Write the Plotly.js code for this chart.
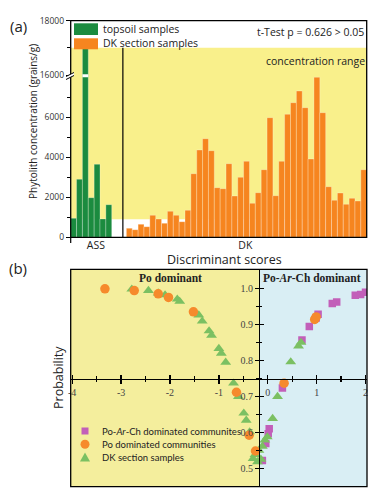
<!DOCTYPE html>
<html><head><meta charset="utf-8">
<script src="https://cdn.plot.ly/plotly-3.0.1.min.js"></script>
<style>html,body{margin:0;padding:0;background:#fff}#chart{width:378px;height:496px}</style>
</head><body><div id="chart"></div>
<script>
// ---------- Panel (a) data ----------
const groupLabels = ['ASS', 'DK'];
const assValues = [950, 2900, 17000, 1980, 3650, 920, 1630];
const dkValues = [450, 380, 650, 530, 1100, 915, 700, 1300, 1100, 780, 1350, 3180, 4365, 4930, 4330,
  2480, 2430, 3680, 2065, 3000, 3800, 1700, 2230, 3380, 5980, 2080, 3800, 6150, 6730, 7315, 6480,
  3915, 8000, 6230, 2530, 1850, 2215, 1650, 1950, 1815, 3380];
const yTicksLow = [0, 2000, 4000, 6000];
const yMinorLow = [1000, 3000, 5000, 7000];
const yTicksUp = [16000, 18000];
const yMinorUp = [17000];
const rangeLow = [900, 17000]; // "concentration range"

// ---------- Panel (b) data ----------
const pacScore = [2.0, 1.90, 1.79, 1.41, 1.32, 1.03, 0.99, 0.85, 0.70, 0.30, 0.03, 0.01, -0.04, -0.11];
const pacProb  = [0.989, 0.983, 0.981, 0.962, 0.958, 0.928, 0.918, 0.894, 0.857, 0.724, 0.611, 0.597, 0.570, 0.523];
const poScore = [-3.33, -2.73, -2.24, -2.03, -1.52, 0.96, 0.99, 0.335, -0.64, -0.38, -0.25];
const poProb  = [0.999, 0.994, 0.985, 0.975, 0.935, 0.914, 0.921, 0.737, 0.712, 0.593, 0.549];
const dkScore = [-2.78, -2.44, -2.24, -2.10, -1.85, -1.80, -1.41, -1.34, -1.20, -1.15, -1.0, -0.95, -0.86,
  -0.70, -0.60, -0.49, -0.44, -0.37, -0.30, -0.26, -0.21, -0.18, -0.14, -0.11, -0.06, -0.01, 0.10, 0.20, 0.47, 0.63, 0.68];
const dkProb  = [0.998, 0.994, 0.987, 0.982, 0.970, 0.964, 0.926, 0.909, 0.882, 0.870, 0.833, 0.820, 0.795,
  0.737, 0.700, 0.654, 0.634, 0.602, 0.528, 0.539, 0.519, 0.551, 0.526, 0.562, 0.579, 0.588, 0.639, 0.700, 0.796, 0.840, 0.850];
const xTicksB = [-4, -3, -2, -1, 0, 1, 2];
const yTicksB = [0.5, 0.6, 0.7, 0.8, 0.9, 1.0];
const boundaryScore = -0.18;
const xCrossProb = 0.75;

// ---------- helpers ----------
const W = 378, H = 496;
const fx = p => p / W, fy = p => 1 - p / H;

const assPos = assValues.map((v, i) => i);
const dkPos = dkValues.map((v, i) => 9.5 + i);
const tallIdx = assValues.indexOf(Math.max(...assValues));

const yLowRange = [0, 8065], yUpRange = [15963, 18000];
const yDomLow = [fy(237.3), fy(76)], yDomUp = [fy(76), fy(20.7)];
const xDomA = [fx(70.7), fx(366.7)];

const xRangeB = [-4.03, 2.03], yRangeB = [0.45, 1.053];
const xDomB = [fx(70.7), fx(367)], yDomB = [fy(486.7), fy(269.3)];
const xAxisPosB = yDomB[0] + (xCrossProb - yRangeB[0]) / (yRangeB[1] - yRangeB[0]) * (yDomB[1] - yDomB[0]);
const yAxisPosB = xDomB[0] + (boundaryScore - xRangeB[0]) / (xRangeB[1] - xRangeB[0]) * (xDomB[1] - xDomB[0]);

const GREEN = '#1B8B3F', ORANGE = '#F6851F', YELLOW = '#F9F08B';
const sans = 'Open Sans, DejaVu Sans, sans-serif';
const serif = 'Liberation Serif, Times New Roman, serif';
const barLine = {color: 'rgba(255,255,255,0.45)', width: 0.6};

const traces = [];
['y', 'y2'].forEach(ax => {
  traces.push({type: 'bar', x: assPos, y: assValues, width: 1, xaxis: 'x', yaxis: ax,
    marker: {color: GREEN, line: barLine}, hoverinfo: 'skip', showlegend: false});
  traces.push({type: 'bar', x: dkPos, y: dkValues, width: 1, xaxis: 'x', yaxis: ax,
    marker: {color: ORANGE, line: barLine}, hoverinfo: 'skip', showlegend: false});
});
traces.push({type: 'scatter', mode: 'markers', x: pacScore, y: pacProb, xaxis: 'x2', yaxis: 'y3',
  marker: {symbol: 'square', size: 7.5, color: '#C25FB9'}, showlegend: false, hoverinfo: 'skip'});
traces.push({type: 'scatter', mode: 'markers', x: dkScore, y: dkProb, xaxis: 'x2', yaxis: 'y3',
  marker: {symbol: 'triangle-up', size: 9.5, color: '#7BC062'}, showlegend: false, hoverinfo: 'skip'});
traces.push({type: 'scatter', mode: 'markers', x: poScore, y: poProb, xaxis: 'x2', yaxis: 'y3',
  marker: {symbol: 'circle', size: 9.5, color: '#F68A2C'}, showlegend: false, hoverinfo: 'skip'});
traces.push({type: 'scatter', x: [], y: [], xaxis: 'x3', yaxis: 'y4', showlegend: false, hoverinfo: 'skip'});

const minorX = [], minorY = [];
for (let i = 0; i < xTicksB.length - 1; i++) minorX.push((xTicksB[i] + xTicksB[i + 1]) / 2);
for (let i = 0; i < yTicksB.length - 1; i++) minorY.push(Math.round((yTicksB[i] + yTicksB[i + 1]) / 2 * 100) / 100);

const tickFontA = {family: sans, size: 8.5, color: '#333'};
const tickFontB = {family: serif, size: 10, color: '#444'};

const layout = {
  width: W, height: H, margin: {l: 0, r: 0, t: 0, b: 0},
  paper_bgcolor: '#fff', plot_bgcolor: 'rgba(0,0,0,0)', showlegend: false, barmode: 'overlay', bargap: 0,
  xaxis: {domain: xDomA, range: [-0.5, 50], anchor: 'y', showgrid: false, zeroline: false, showline: false,
    ticks: '', tickvals: [3.8, 29.3], ticktext: groupLabels, tickfont: {family: sans, size: 10.5, color: '#222'}},
  yaxis: {domain: yDomLow, range: yLowRange, anchor: 'x', showgrid: false, zeroline: false, showline: false,
    tickvals: yTicksLow, ticktext: yTicksLow.map(String), ticks: 'outside', ticklen: 4, tickcolor: '#000', tickfont: tickFontA,
    minor: {tickvals: yMinorLow, ticks: 'outside', ticklen: 2.5, tickcolor: '#000'}},
  yaxis2: {domain: yDomUp, range: yUpRange, anchor: 'x', showgrid: false, zeroline: false, showline: false,
    tickvals: yTicksUp, ticktext: yTicksUp.map(String), ticks: 'outside', ticklen: 4, tickcolor: '#000', tickfont: tickFontA,
    minor: {tickvals: yMinorUp, ticks: 'outside', ticklen: 2.5, tickcolor: '#000'}},
  xaxis2: {domain: xDomB, range: xRangeB, anchor: 'free', position: xAxisPosB, showgrid: false, zeroline: false,
    showline: true, linecolor: '#000', linewidth: 1.3, tickvals: xTicksB, ticktext: xTicksB.map(String),
    ticks: 'outside', ticklen: 4, tickwidth: 1.3, tickcolor: '#000', tickfont: tickFontB,
    minor: {tickvals: minorX, ticks: 'outside', ticklen: 2.5, tickcolor: '#000'}},
  yaxis3: {domain: yDomB, range: yRangeB, anchor: 'free', position: yAxisPosB, showgrid: false, zeroline: false,
    showline: true, linecolor: '#000', linewidth: 1.3, tickvals: yTicksB, ticktext: yTicksB.map(v => v.toFixed(1)),
    ticks: 'outside', ticklen: 4, tickwidth: 1.3, tickcolor: '#000', tickfont: tickFontB,
    minor: {tickvals: minorY, ticks: 'outside', ticklen: 2.5, tickcolor: '#000'}},
  xaxis3: {overlaying: 'x2', range: xRangeB, anchor: 'free', position: xAxisPosB, showgrid: false, zeroline: false,
    showline: false, showticklabels: false, tickvals: xTicksB, ticks: 'inside', ticklen: 4, tickwidth: 1.3, tickcolor: '#000',
    minor: {tickvals: minorX, ticks: 'inside', ticklen: 2.5, tickcolor: '#000'}},
  yaxis4: {overlaying: 'y3', range: yRangeB, anchor: 'free', position: yAxisPosB, showgrid: false, zeroline: false,
    showline: false, showticklabels: false, tickvals: yTicksB, ticks: 'inside', ticklen: 4, tickwidth: 1.3, tickcolor: '#000',
    minor: {tickvals: minorY, ticks: 'inside', ticklen: 2.5, tickcolor: '#000'}},
  shapes: [], annotations: []
};

const S = layout.shapes, A = layout.annotations;
// panel (a) concentration range background
S.push({type: 'rect', layer: 'below', xref: 'x domain', yref: 'y', x0: 0, x1: 1, y0: rangeLow[0], y1: yLowRange[1], fillcolor: YELLOW, line: {width: 0}});
S.push({type: 'rect', layer: 'below', xref: 'x domain', yref: 'y2', x0: 0, x1: 1, y0: yUpRange[0], y1: rangeLow[1], fillcolor: YELLOW, line: {width: 0}});
// separator ASS | DK
S.push({type: 'line', xref: 'x', yref: 'y', x0: 8.4, x1: 8.4, y0: 0, y1: yLowRange[1], line: {color: '#000', width: 1.2}});
S.push({type: 'line', xref: 'x', yref: 'y2', x0: 8.4, x1: 8.4, y0: yUpRange[0], y1: rangeLow[1], line: {color: '#000', width: 1.2}});
// break gap in tall bar
S.push({type: 'rect', xref: 'x', yref: 'paper', x0: tallIdx - 0.5, x1: tallIdx + 0.5, y0: fy(77.2), y1: fy(74.3), fillcolor: '#fff', line: {width: 0}});
// frame (a)
S.push({type: 'rect', xref: 'paper', yref: 'paper', x0: xDomA[0], x1: xDomA[1], y0: yDomLow[0], y1: yDomUp[1], line: {color: '#000', width: 1.3}});
// break mark on left axis
S.push({type: 'path', xref: 'paper', yref: 'paper',
  path: `M${fx(66)},${fy(76.5)} L${fx(74)},${fy(72.5)} L${fx(74)},${fy(75.5)} L${fx(66)},${fy(79.5)} Z`, fillcolor: '#fff', line: {width: 0}});
S.push({type: 'line', xref: 'paper', yref: 'paper', x0: fx(66), x1: fx(74), y0: fy(76.5), y1: fy(72.5), line: {color: '#000', width: 1}});
S.push({type: 'line', xref: 'paper', yref: 'paper', x0: fx(66), x1: fx(74), y0: fy(79.5), y1: fy(75.5), line: {color: '#000', width: 1}});
S.push({type: 'line', xref: 'paper', yref: 'paper', x0: fx(70.7), x1: fx(70.7), y0: fy(237.3), y1: fy(243), line: {color: '#000', width: 1.2}});
// legend (a)
S.push({type: 'rect', xref: 'paper', yref: 'paper', x0: fx(74), x1: fx(98), y0: fy(35), y1: fy(23.3), fillcolor: GREEN, line: {width: 0}});
S.push({type: 'rect', xref: 'paper', yref: 'paper', x0: fx(74), x1: fx(98), y0: fy(49.3), y1: fy(38.3), fillcolor: ORANGE, line: {width: 0}});

// panel (b) backgrounds
S.push({type: 'rect', layer: 'below', xref: 'x2', yref: 'y3 domain', x0: xRangeB[0], x1: boundaryScore, y0: 0, y1: 1, fillcolor: '#F4EE9D', line: {width: 0}});
S.push({type: 'rect', layer: 'below', xref: 'x2', yref: 'y3 domain', x0: boundaryScore, x1: xRangeB[1], y0: 0, y1: 1, fillcolor: '#D9EEF4', line: {width: 0}});
S.push({type: 'rect', xref: 'x2 domain', yref: 'y3 domain', x0: 0, x1: 1, y0: 0, y1: 1, line: {color: '#000', width: 1.3}});
// legend (b) symbols
S.push({type: 'rect', xref: 'paper', yref: 'paper', x0: fx(81.5), x1: fx(88.5), y0: fy(434.5), y1: fy(427.5), fillcolor: '#C25FB9', line: {width: 0}});
S.push({type: 'circle', xref: 'paper', yref: 'paper', x0: fx(80.5), x1: fx(89.5), y0: fy(448.8), y1: fy(439.8), fillcolor: '#F68A2C', line: {width: 0}});
S.push({type: 'path', xref: 'paper', yref: 'paper', path: `M${fx(80)},${fy(461.5)} L${fx(90)},${fy(461.5)} L${fx(85)},${fy(452.5)} Z`, fillcolor: '#7BC062', line: {width: 0}});

const ann = (text, x, y, o = {}) => A.push(Object.assign({text, x: fx(x), y: fy(y), xref: 'paper', yref: 'paper', showarrow: false,
  xanchor: 'center', yanchor: 'middle', font: {family: sans, size: 10.5, color: '#222'}}, o));
const legFontB = {family: 'Lato, Open Sans, sans-serif', size: 9.5, color: '#222'};
ann('(a)', 18, 26, {font: {family: sans, size: 15, color: '#222'}});
ann('(b)', 18, 268, {font: {family: sans, size: 15, color: '#222'}});
ann('topsoil samples', 101, 29, {xanchor: 'left'});
ann('DK section samples', 101, 43.5, {xanchor: 'left'});
ann('t-Test p = 0.626 &gt; 0.05', 366, 32, {xanchor: 'right'});
ann('concentration range', 367, 61, {xanchor: 'right'});
ann('Phytolith concentration (grains/g)', 33, 122, {textangle: -90, font: {family: sans, size: 10, color: '#222'}});
ann('Discriminant scores', 224, 259, {font: {family: sans, size: 12.5, color: '#222'}});
ann('<b>Po dominant</b>', 170, 278, {font: {family: serif, size: 11.5, color: '#222'}});
ann('<b>Po-<i>Ar</i>-Ch dominant</b>', 312, 278, {font: {family: serif, size: 11.5, color: '#222'}});
ann('Probability', 58, 378, {textangle: -90, font: {family: sans, size: 12.5, color: '#222'}});
ann('Po-<i>Ar</i>-Ch dominated communites', 100, 431, {xanchor: 'left', font: legFontB});
ann('Po dominated communities', 100, 444.3, {xanchor: 'left', font: legFontB});
ann('DK section samples', 100, 457.5, {xanchor: 'left', font: legFontB});

Plotly.newPlot('chart', traces, layout, {staticPlot: true, displayModeBar: false});
</script></body></html>
